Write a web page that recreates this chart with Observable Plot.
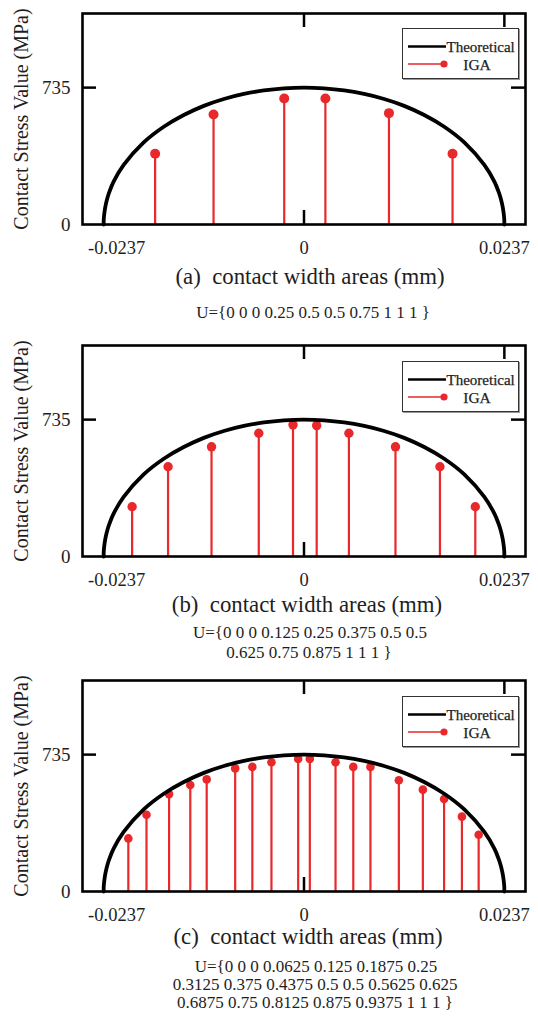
<!DOCTYPE html>
<html><head><meta charset="utf-8">
<script src="https://cdn.jsdelivr.net/npm/d3@7"></script>
<script src="https://cdn.jsdelivr.net/npm/@observablehq/plot@0.6"></script>
<style>
body{margin:0;background:#fff;}
#root{position:relative;width:538px;height:1019px;font-family:"Liberation Serif","Times New Roman",serif;color:#1e1e1e;overflow:hidden;}
.panel{position:absolute;left:0;}
.cap{position:absolute;left:0;width:538px;text-align:center;white-space:pre;}
.legend{position:absolute;box-sizing:border-box;border:1.5px solid #333;background:#fff;box-shadow:1px 1px 0 #999;}
</style></head><body><div id="root"></div>
<script>
// Theoretical curve (x in mm, stress in MPa)
const theoX = [-0.0237, -0.02368, -0.02358, -0.02346, -0.02323, -0.02299, -0.02252, -0.02133, -0.01896, -0.01659, -0.01422, -0.01185, -0.00948, -0.00711, -0.00474, -0.00237, 0,
  0.00237, 0.00474, 0.00711, 0.00948, 0.01185, 0.01422, 0.01659, 0.01896, 0.02133, 0.02252, 0.02299, 0.02323, 0.02346, 0.02358, 0.02368, 0.0237];
const theoY = [0, 33, 73, 104, 146, 179, 230, 320, 441, 525, 588, 637, 674, 701, 720, 731, 735,
  731, 720, 701, 674, 637, 588, 525, 441, 320, 230, 179, 146, 104, 73, 33, 0];

const xTicks = [-0.0237, 0, 0.0237];
const yTicks = [0, 735];

// IGA results
const igaXA = [-0.01761, -0.01070, -0.00234, 0.00253, 0.01005, 0.01757];
const igaYA = [380, 591, 677, 677, 598, 380];
const igaXB = [-0.02033, -0.01608, -0.01094, -0.00535, -0.00130, 0.00150, 0.00531, 0.01082, 0.01608, 0.02026];
const igaYB = [267, 482, 589, 662, 707, 703, 662, 589, 482, 267];
const igaXC = [-0.02078, -0.01863, -0.01596, -0.01345, -0.01151, -0.00814, -0.00611, -0.00385, -0.00069, 0.00069, 0.00373, 0.00583, 0.00786, 0.01122, 0.01406, 0.01657, 0.01868, 0.02066];
const igaYC = [285, 412, 523, 572, 602, 661, 669, 694, 712, 712, 694, 669, 669, 597, 547, 497, 402, 305];

const yLabel = "Contact Stress Value (MPa)";
const captions = ["(a)  contact width areas (mm)", "(b)  contact width areas (mm)", "(c)  contact width areas (mm)"];
const knotsA = ["U={0 0 0 0.25 0.5 0.5 0.75 1 1 1 }"];
const knotsB = ["U={0 0 0 0.125 0.25 0.375 0.5 0.5", "0.625 0.75 0.875 1 1 1 }"];
const knotsC = ["U={0 0 0 0.0625 0.125 0.1875 0.25", "0.3125 0.375 0.4375 0.5 0.5 0.5625 0.625", "0.6875 0.75 0.8125 0.875 0.9375 1 1 1 }"];
const legendNames = ["Theoretical", "IGA"];

const red = "#e8282a";
const ink = "#1e1e1e";
const theo = theoX.map((x, i) => ({x, y: theoY[i]}));
const root = document.getElementById("root");

function panel(xs, ys, r, top) {
  const pts = xs.map((x, i) => ({x, y: ys[i]}));
  const fw = 538 - 82 - 13, fh = 211;
  const p = Plot.plot({
    width: 538, height: 264, marginTop: 13, marginBottom: 40, marginLeft: 82, marginRight: 13,
    x: {domain: [-0.0262, 0.0262]},
    y: {domain: [0, 1133]},
    style: {fontFamily: "Liberation Serif", fontSize: "19px", color: ink, background: "transparent", overflow: "visible"},
    marks: [
      Plot.axisX({ticks: xTicks.slice(0, 1), tickSize: 0, tickPadding: 16, tickFormat: d => String(d), label: null, dx: 13, fontSize: 18.5}),
      Plot.axisX({ticks: xTicks.slice(1), tickSize: 0, tickPadding: 16, tickFormat: d => String(d), label: null, fontSize: 18.5}),
      Plot.axisY({ticks: yTicks, tickSize: 0, tickPadding: 12, label: null}),
      Plot.ruleX(pts, {x: "x", y1: 0, y2: "y", stroke: red, strokeWidth: 2.2}),
      Plot.dot(pts, {x: "x", y: "y", r, fill: red}),
      Plot.line(theo, {x: "x", y: "y", curve: "catmull-rom", stroke: "#000", strokeWidth: 3.8}),
      Plot.tickY([735], {y: d => d, insetRight: fw - 14, stroke: "#000", strokeWidth: 2.5}),
      Plot.tickY([735], {y: d => d, insetLeft: fw - 14, stroke: "#000", strokeWidth: 2.5}),
      Plot.tickX([0, 0.0237], {x: d => d, insetBottom: fh - 14, stroke: "#000", strokeWidth: 2.5}),
      Plot.tickX([0], {x: d => d, insetTop: fh - 14, stroke: "#000", strokeWidth: 2.5}),
      Plot.frame({stroke: "#000", strokeWidth: 2.6}),
      Plot.text([yLabel], {frameAnchor: "left", rotate: -90, dx: -69, lineAnchor: "top", textAnchor: "middle", fontSize: 20, text: d => d})
    ]
  });
  p.classList.add("panel");
  p.style.top = top + "px";
  root.appendChild(p);
}

function legend(top) {
  const d = document.createElement("div");
  d.className = "legend";
  d.style.left = "402px"; d.style.top = top + "px"; d.style.width = "117px"; d.style.height = "51px";
  d.innerHTML = `<svg width="117" height="51" style="position:absolute;left:-1.5px;top:-1.5px;overflow:visible">
    <line x1="6" x2="44" y1="18.5" y2="18.5" stroke="#000" stroke-width="2.6"/>
    <line x1="6" x2="42" y1="36" y2="36" stroke="${red}" stroke-width="1.6"/>
    <circle cx="42" cy="36" r="3.6" fill="${red}"/>
    <text x="44.5" y="23.5" font-family="Liberation Serif" font-size="15" fill="${ink}" stroke="${ink}" stroke-width="0.25">${legendNames[0]}</text>
    <text x="75" y="41.5" font-family="Liberation Serif" font-size="15.5" fill="${ink}" stroke="${ink}" stroke-width="0.25" text-anchor="middle">${legendNames[1]}</text>
  </svg>`;
  root.appendChild(d);
}

function caption(text, cx, cy, size) {
  const d = document.createElement("div");
  d.className = "cap";
  d.style.left = (cx - 269) + "px";
  d.style.top = (cy - size * 0.6) + "px";
  d.style.fontSize = size + "px";
  d.style.lineHeight = (size * 1.2) + "px";
  d.textContent = text;
  root.appendChild(d);
}

panel(igaXA, igaYA, 5, 0);
panel(igaXB, igaYB, 4.7, 332);
panel(igaXC, igaYC, 4.3, 667);
legend(28); legend(361); legend(696);

caption(captions[0], 310, 277, 22.8);
caption(knotsA[0], 313, 313, 17);
caption(captions[1], 307, 605, 22.8);
caption(knotsB[0], 310, 633, 17);
caption(knotsB[1], 309, 653, 17);
caption(captions[2], 308, 937, 22.8);
caption(knotsC[0], 316, 967, 17);
caption(knotsC[1], 315, 985, 17);
caption(knotsC[2], 315, 1003, 17);
</script></body></html>
